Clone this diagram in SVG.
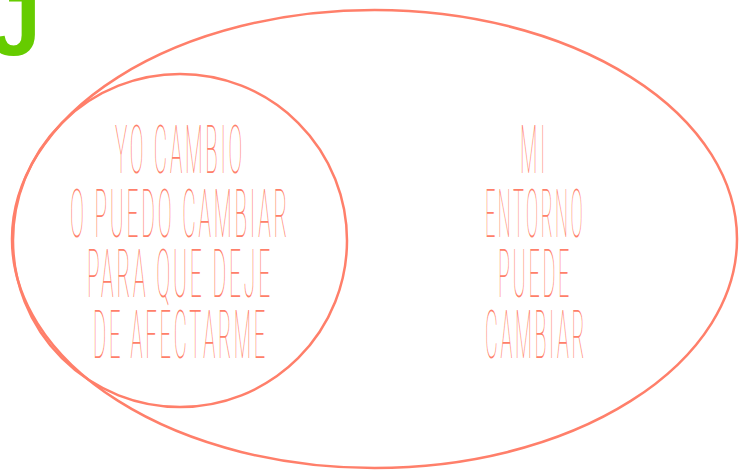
<svg xmlns="http://www.w3.org/2000/svg" width="747" height="470" viewBox="0 0 747 470">
<style>
.ring{fill:none;stroke:#FF7F6A;stroke-width:2.5}
.t{font-family:Roboto,"Liberation Sans",sans-serif;font-weight:100;font-size:67px;fill:#FF7F6A;letter-spacing:9px}
.g{font-family:"Liberation Sans",Arial,sans-serif;font-weight:bold;font-size:92px;fill:#66CC00}
</style>
<rect width="747" height="470" fill="#ffffff"/>
<text class="g" x="-10" y="55">J</text>
<g id="entorno">
<ellipse class="ring" cx="374.5" cy="239" rx="362.5" ry="229"/>
<text class="t" x="520" y="173" textLength="28" lengthAdjust="spacingAndGlyphs">MI</text>
<text class="t" x="485" y="237" textLength="100" lengthAdjust="spacingAndGlyphs">ENTORNO</text>
<text class="t" x="498" y="297" textLength="74" lengthAdjust="spacingAndGlyphs">PUEDE</text>
<text class="t" x="485" y="358" textLength="102" lengthAdjust="spacingAndGlyphs">CAMBIAR</text>
</g>
<g id="yo">
<ellipse class="ring" cx="180" cy="240.5" rx="167" ry="166.5"/>
<text class="t" x="115" y="173" textLength="130" lengthAdjust="spacingAndGlyphs">YO CAMBIO</text>
<text class="t" x="70" y="237" textLength="220" lengthAdjust="spacingAndGlyphs">O PUEDO CAMBIAR</text>
<text class="t" x="87" y="297" textLength="186" lengthAdjust="spacingAndGlyphs">PARA QUE DEJE</text>
<text class="t" x="93" y="358" textLength="175" lengthAdjust="spacingAndGlyphs">DE AFECTARME</text>
</g>
<g id="connectors"></g>
</svg>
